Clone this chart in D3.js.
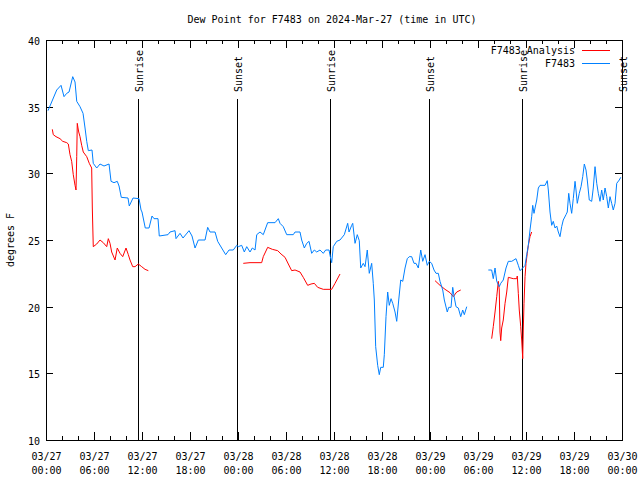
<!DOCTYPE html>
<html><head><meta charset="utf-8">
<script src="https://cdn.jsdelivr.net/npm/d3@7"></script>
<style>body{margin:0;background:#fff}svg{display:block}text{font-family:"DejaVu Sans Mono",monospace;font-size:10px;fill:#000}</style>
</head><body><svg id="c" width="640" height="480"></svg>
<script>
const title = "Dew Point for F7483 on 2024-Mar-27 (time in UTC)";
const yLabel = "degrees F";
const startTime = new Date(Date.UTC(2024,2,27,0,0));
const endTime = new Date(Date.UTC(2024,2,30,0,0));
const yTicks = [10,15,20,25,30,35,40];
// hours after 03/27 00:00 UTC; null = gap
const obsHours = [0.25,1.34,1.88,2.25,2.59,2.88,3.34,3.63,3.84,4.25,4.63,4.88,5.09,5.29,5.75,5.91,6.34,6.75,7.25,7.88,8.13,8.5,8.91,9.13,9.41,10.25,10.41,10.88,11.63,11.88,12.0,12.41,12.88,13.25,13.5,14.0,14.16,15.25,15.5,16.13,16.25,16.75,17.13,17.88,18.25,18.63,19.04,19.88,20.21,20.5,21.13,21.46,21.96,22.46,22.88,23.41,23.84,24.04,24.46,24.79,25.09,25.5,25.79,26.13,26.34,26.75,27.16,27.71,28.63,29.04,29.25,29.66,30.09,30.91,31.13,31.75,31.96,32.29,32.59,32.88,33.21,33.54,33.84,34.25,34.66,34.96,35.38,35.54,35.71,35.91,36.34,36.75,37.29,37.71,37.88,38.21,38.34,38.63,38.91,39.16,39.34,39.66,39.88,40.16,40.41,40.71,40.91,41.04,41.21,41.46,41.66,41.84,42.16,42.29,42.5,42.71,42.91,43.13,43.34,43.63,43.84,44.09,44.34,44.59,44.88,45.16,45.41,45.71,46.0,46.25,46.54,46.84,47.09,47.38,47.66,47.91,48.21,48.5,48.75,49.04,49.25,49.59,49.79,50.16,50.34,50.63,50.84,51.0,51.25,51.54,51.84,52.09,52.29,52.59,
 53.9,
 55.29,55.71,55.91,56.13,56.34,56.66,56.84,57.16,57.5,57.79,58.21,58.75,59.04,59.25,59.59,59.88,60.09,60.29,60.5,60.71,60.84,61.0,61.13,61.34,61.54,61.75,62.38,62.66,62.79,63.0,63.21,63.41,63.63,63.84,64.04,64.25,64.46,64.66,65.0,65.16,65.34,65.5,65.71,65.91,66.13,66.25,66.41,66.66,66.88,67.09,67.29,67.5,67.66,67.91,68.21,68.41,68.63,68.84,69.04,69.25,69.46,69.66,69.88,70.09,70.29,70.5,70.71,70.91,71.13,71.34,71.66,71.84];
const obsValues = [34.7,36.25,36.6,35.75,36.0,36.1,37.25,36.85,35.4,35.0,34.5,33.4,32.4,31.7,31.75,30.75,30.4,30.7,30.55,30.7,29.4,29.3,29.4,29.05,28.2,28.15,27.55,28.15,28.1,27.25,27.1,25.9,25.9,26.8,26.6,26.6,25.3,25.4,25.6,25.7,25.1,25.5,25.15,25.7,25.3,24.4,25.0,25.0,25.95,25.6,25.6,24.9,24.4,23.9,24.25,24.25,24.6,24.5,24.6,24.1,24.5,24.1,24.4,24.25,25.4,25.6,25.4,26.3,26.3,26.6,26.25,26.0,25.4,25.4,25.6,25.6,25.0,24.4,24.75,24.9,24.0,24.25,24.1,24.25,24.0,24.25,24.25,23.75,23.3,24.5,24.9,25.0,25.4,26.25,25.6,26.1,26.25,24.75,25.4,24.95,22.9,23.25,23.0,24.25,22.5,23.25,21.75,20.5,17.0,15.6,14.9,15.45,15.45,16.4,19.25,21.1,20.1,20.6,20.25,19.6,18.9,20.5,22.0,21.9,22.9,23.6,23.75,23.75,23.25,23.25,22.9,24.25,23.4,23.9,23.1,23.4,23.25,22.75,22.5,22.5,21.9,21.25,20.5,19.6,19.95,19.95,21.45,20.8,20.0,19.9,19.25,19.75,19.4,20.0,
 null,
 22.75,22.75,22.1,22.9,21.9,21.5,21.75,22.0,22.9,23.4,23.4,23.6,23.1,22.7,22.9,23.1,23.9,24.6,25.75,26.75,27.6,27.0,27.4,28.0,28.9,29.1,29.1,29.45,28.75,27.1,26.1,26.4,25.9,26.05,25.6,25.25,26.0,26.5,26.9,27.1,28.5,27.75,27.0,28.1,29.4,28.75,27.75,28.5,29.0,29.75,30.7,30.25,29.5,28.0,27.9,28.9,30.5,29.25,28.5,27.9,28.75,28.0,28.9,28.25,27.4,28.25,27.75,27.25,27.75,29.25,29.5,29.7];
const anaHours = [0.79,0.91,1.25,1.75,2.09,2.59,2.79,3.0,3.21,3.41,3.63,3.75,3.84,3.91,4.0,4.09,4.25,4.46,4.66,5.09,5.41,5.71,5.79,5.91,6.34,6.75,7.16,7.59,7.79,8.0,8.21,8.63,8.91,9.25,9.59,10.0,10.29,10.5,10.84,11.13,11.54,11.96,12.38,12.79,
 18.0,
 24.66,25.5,26.96,27.16,27.71,28.29,28.96,29.38,29.88,30.29,30.71,31.13,31.75,32.16,32.71,33.13,33.54,33.96,34.66,35.71,36.13,36.75,
 42.0,
 48.63,49.25,49.88,50.5,50.91,51.34,51.84,
 54.0,
 55.71,55.91,56.13,56.34,56.54,56.66,56.75,56.84,56.96,57.16,57.38,57.59,57.79,58.41,58.84,58.91,59.04,59.16,59.34,59.46,59.59,59.66,59.75,59.88,60.0,60.16,60.29,60.5,60.71];
const anaValues = [33.3,32.9,32.75,32.6,32.4,32.3,32.2,31.4,30.9,29.9,29.1,28.75,31.25,33.75,33.4,33.1,32.75,32.1,31.6,31.25,30.75,30.4,27.4,24.5,24.7,25.0,24.8,24.5,25.1,24.75,24.1,23.5,24.4,24.0,23.75,24.4,23.9,23.5,23.0,23.0,23.2,23.0,22.8,22.7,
 null,
 23.25,23.3,23.3,23.75,24.45,24.3,24.2,23.95,23.7,23.2,22.7,22.75,22.6,22.2,21.6,21.7,21.75,21.45,21.3,21.3,21.75,22.45,
 null,
 21.95,21.6,21.3,21.05,20.75,21.1,21.25,
 null,
 17.6,18.5,19.6,20.75,21.9,21.25,18.1,17.45,18.4,19.0,20.25,21.1,22.2,22.1,22.1,22.3,21.0,19.75,18.5,17.5,16.1,18.25,20.25,22.25,23.25,24.0,24.6,25.25,25.6];
const sunLabels = ["Sunrise","Sunset","Sunrise","Sunset","Sunrise","Sunset"];
const sunHours = [11.54,23.92,35.5,47.92,59.46,72.0];
const seriesNames = ["F7483 Analysis","F7483"];
const seriesColors = ["#ff0000","#0080ff"];

const svg = d3.select("#c");
const L=46,R=622,T=40,B=440;
const hr = h => new Date(startTime.getTime()+h*3600000);
const x = d3.scaleUtc().domain([startTime,endTime]).range([L,R]);
const y = d3.scaleLinear().domain([10,40]).range([B,T]);

svg.append("text").attr("x",332).attr("y",23).attr("text-anchor","middle").text(title);
svg.append("text").attr("transform","translate(14,240) rotate(-90)").attr("text-anchor","middle").text(yLabel);

const major = d3.utcHour.every(6).range(startTime, new Date(endTime.getTime()+1));
const minor = d3.utcHour.every(2).range(startTime, new Date(endTime.getTime()+1));
const fmt1 = d3.utcFormat("%m/%d"), fmt2 = d3.utcFormat("%H:%M");
const g = svg.append("g").attr("stroke","#000").attr("stroke-width",1).attr("shape-rendering","crispEdges");
minor.forEach(t=>{const px=Math.round(x(t))+0.5;
  g.append("line").attr("x1",px).attr("x2",px).attr("y1",B).attr("y2",B-4);
  g.append("line").attr("x1",px).attr("x2",px).attr("y1",T).attr("y2",T+4);});
major.forEach(t=>{const px=Math.round(x(t))+0.5;
  g.append("line").attr("x1",px).attr("x2",px).attr("y1",B).attr("y2",B-8);
  g.append("line").attr("x1",px).attr("x2",px).attr("y1",T).attr("y2",T+8);
  svg.append("text").attr("x",px).attr("y",B+20).attr("text-anchor","middle").text(fmt1(t));
  svg.append("text").attr("x",px).attr("y",B+34).attr("text-anchor","middle").text(fmt2(t));});
yTicks.forEach(v=>{const py=Math.round(y(v))+0.5;
  g.append("line").attr("x1",L).attr("x2",L+7).attr("y1",py).attr("y2",py);
  g.append("line").attr("x1",R).attr("x2",R-7).attr("y1",py).attr("y2",py);
  svg.append("text").attr("x",L-6).attr("y",py+4).attr("text-anchor","end").text(v);});

// sunrise/sunset
sunHours.forEach((h,i)=>{const px=Math.round(x(hr(h)))+0.5;
  g.append("line").attr("x1",px).attr("x2",px).attr("y1",99).attr("y2",B);
  svg.append("text").attr("transform",`translate(${px+4},92) rotate(-90)`).attr("text-anchor","start").text(sunLabels[i]);});

const line = d3.line().defined(d=>d[1]!==null).x(d=>x(hr(d[0]))).y(d=>y(d[1]));
const plot = svg.append("g");
plot.append("path").datum(anaHours.map((h,i)=>[h,anaValues[i]])).attr("fill","none").attr("stroke",seriesColors[0]).attr("stroke-width",1).attr("d",line);
plot.append("path").datum(obsHours.map((h,i)=>[h,obsValues[i]])).attr("fill","none").attr("stroke",seriesColors[1]).attr("stroke-width",1).attr("d",line);

// border
svg.append("rect").attr("x",L+0.5).attr("y",T+0.5).attr("width",R-L).attr("height",B-T).attr("fill","none").attr("stroke","#000").attr("shape-rendering","crispEdges");

// legend
seriesNames.forEach((n,i)=>{const ly=50+i*13;
  svg.append("text").attr("x",575).attr("y",ly+4).attr("text-anchor","end").text(n);
  svg.append("line").attr("x1",582).attr("x2",610).attr("y1",ly+0.5).attr("y2",ly+0.5).attr("stroke",seriesColors[i]).attr("stroke-width",1).attr("shape-rendering","crispEdges");});
</script></body></html>
